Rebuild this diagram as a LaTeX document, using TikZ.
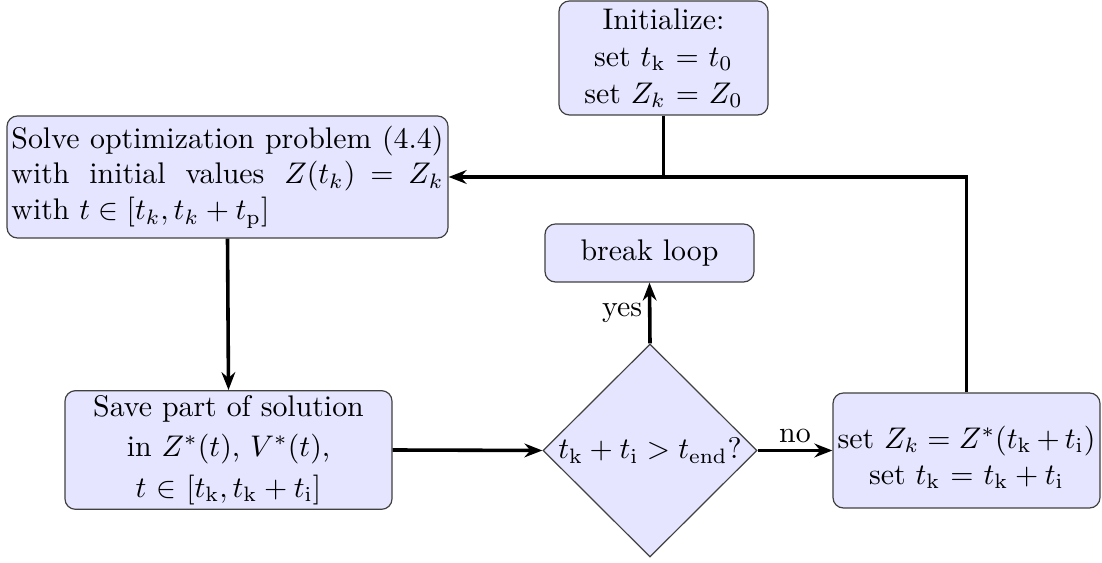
\documentclass[tikz,border=0pt]{standalone}
\usetikzlibrary{shapes.geometric,arrows.meta}
\newcommand\pxu{0.335pt}
\tikzset{
  box/.style={draw=black!75, line width=0.4pt, fill=blue!10, rounded corners=3.5pt, align=center, inner sep=1.5pt},
  decision/.style={diamond, draw=black!75, line width=0.4pt, fill=blue!10, inner sep=0pt, aspect=1},
  conn/.style={line width=1.2pt, -{Stealth[length=6pt,width=4.6pt]}},
  link/.style={line width=1.2pt},
  lbl/.style={inner sep=2pt}
}
\begin{document}
\begin{tikzpicture}[x=0.335pt,y=-0.335pt]
\useasboundingbox (0,0) rectangle (1102,563);
\node[box, minimum width=209*\pxu, minimum height=114*\pxu] (init) at (663.5,58)
  {Initialize:\\[0.4pt] set $t_\mathrm{k}$ $=$ $t_0$\\[0.4pt] set $Z_k$ $=$ $Z_0$};
\node[box, text width=441*\pxu-3pt, align=justify, minimum height=122*\pxu] (solve) at (227.5,177)
  {\baselineskip=13.9pt \thickmuskip=5mu plus 2mu Solve optimization problem (4.4) with initial values $Z(t_k) = Z_k$\linebreak with $t \in [t_k, t_k + t_\mathrm{p}]$};
\node[box, minimum width=209*\pxu, minimum height=58*\pxu] (brk) at (649.5,253) {break loop};
\node[box, minimum width=327*\pxu, minimum height=116*\pxu] (save) at (228.5,450)
  {Save part of solution\\[1.6pt] in $Z^*(t)$, $V^*(t)$,\\[1.6pt] $t$ $\in$ $[t_\mathrm{k}, t_\mathrm{k} + t_\mathrm{i}]$};
\node[decision, minimum width=214*\pxu, minimum height=213*\pxu] (dia) at (650,450.5)
  {$t_\mathrm{k} + t_\mathrm{i} > t_\mathrm{end}$?};
\node[box, minimum width=267*\pxu, minimum height=115*\pxu] (set) at (966.5,450.5)
  {\rule{0pt}{12pt}set $Z_k = Z^*(t_\mathrm{k}\,{+}\,t_\mathrm{i})$\\ set $t_\mathrm{k}$ $=$ $t_\mathrm{k} + t_\mathrm{i}$};

\draw[conn] (set.north) |- (solve.east);
\draw[link] (init.south) -- (init.south |- solve.east);
\draw[conn] (solve.south) -- (save.north);
\draw[conn] (save.east) -- (dia.west);
\draw[conn] (dia.east) -- node[lbl, above] {no} (set.west);
\draw[conn] (dia.north) -- node[lbl, left] {yes} (brk.south);
\end{tikzpicture}
\end{document}
